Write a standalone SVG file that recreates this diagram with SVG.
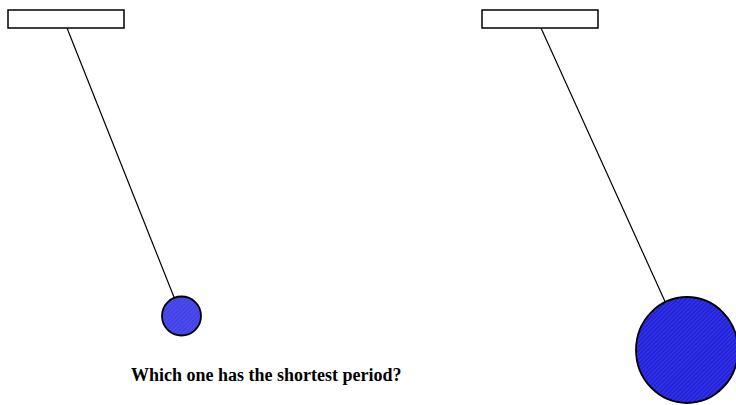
<svg xmlns="http://www.w3.org/2000/svg" width="736" height="405" viewBox="0 0 736 405">
<style>
.bar{fill:#fff;stroke:#000;stroke-width:1.5}
.str{stroke:#000;stroke-width:1.2;fill:none}
.bob{stroke:#000;stroke-width:1.8}
.lbl{font-family:"Liberation Serif","Times New Roman",serif;font-weight:bold;font-size:18px;fill:#000}
</style>
<defs>
<pattern id="hatch" patternUnits="userSpaceOnUse" width="3" height="3" patternTransform="rotate(-45)">
<rect width="3" height="3" fill="#2f2ff2"/>
<line x1="0" y1="0.5" x2="3" y2="0.5" stroke="#1a1aa8" stroke-width="0.8"/>
</pattern>
<pattern id="hatch2" patternUnits="userSpaceOnUse" width="3" height="3" patternTransform="rotate(-45)">
<rect width="3" height="3" fill="#4a4af0"/>
<line x1="0" y1="0.5" x2="3" y2="0.5" stroke="#3a3ac8" stroke-width="0.6"/>
</pattern>
</defs>
<g id="connectors">
<line class="str" x1="67" y1="28" x2="181.5" y2="316"/>
<line class="str" x1="541" y1="28" x2="687" y2="350"/>
</g>
<g id="support1"><rect class="bar" x="8" y="10" width="116" height="18"/></g>
<g id="support2"><rect class="bar" x="482" y="10" width="116" height="18"/></g>
<g id="bob1"><circle class="bob" cx="181.5" cy="316" r="19.5" fill="url(#hatch2)"/></g>
<g id="bob2"><ellipse class="bob" cx="687" cy="350" rx="51" ry="53" fill="url(#hatch)"/></g>
<g id="question"><text class="lbl" x="131" y="381">Which one has the shortest period?</text></g>
</svg>
